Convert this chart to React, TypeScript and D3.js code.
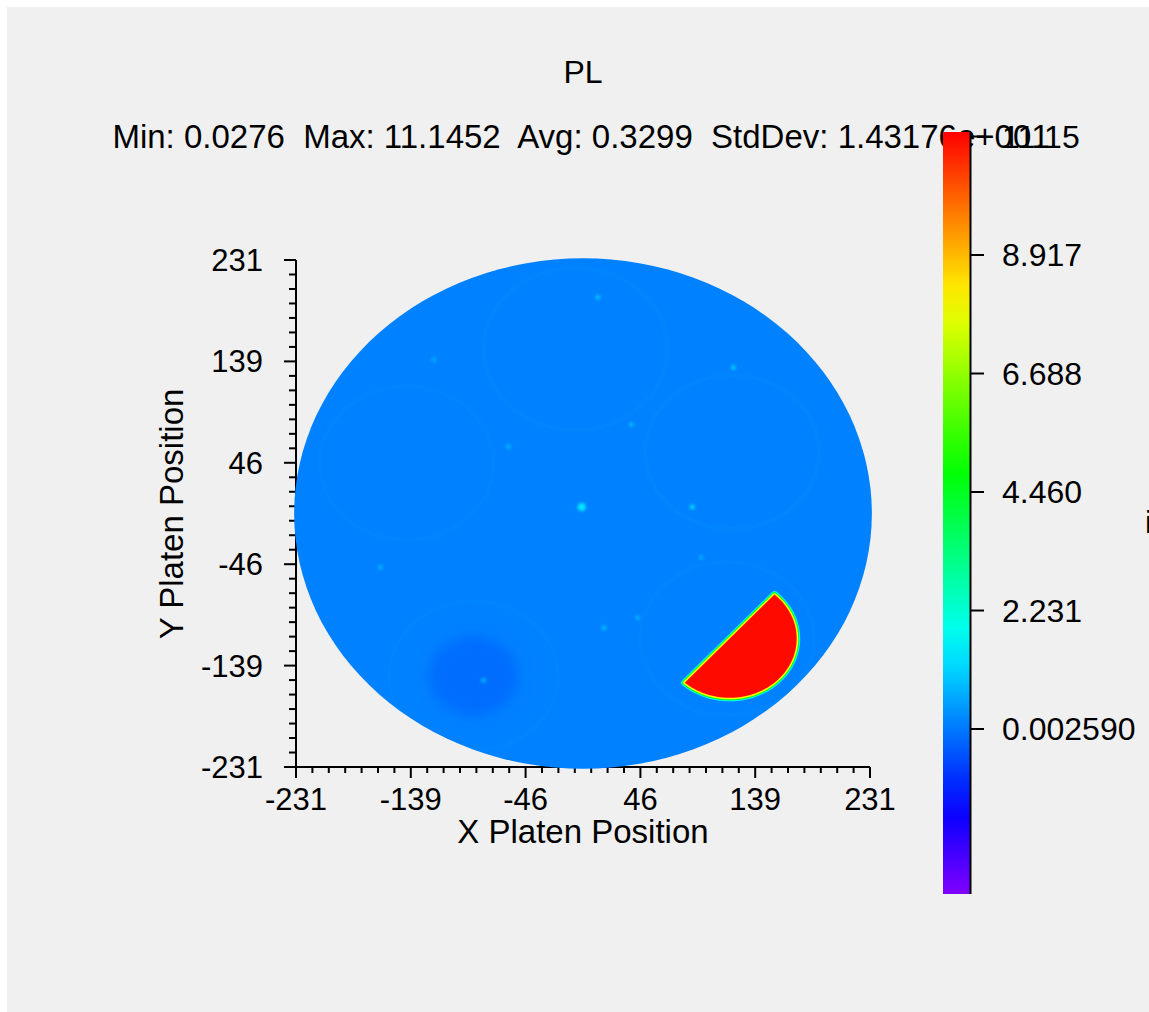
import * as d3 from "d3";

// header texts
const title = "PL";
const statNames = ["Min", "Max", "Avg", "StdDev"];
const statValues = ["0.0276", "11.1452", "0.3299", "1.43176e+001"];

// axes and color bar
const axisTicks = [-231, -138.6, -46.2, 46.2, 138.6, 231];
const colorTicks = [0.00259, 2.2311, 4.4596, 6.6882, 8.9167, 11.1452];
const colorDomain = [-3.1, 11.23];

// wafer map
const waferRadius = 232.5;
const baseLevel = 0.1;
const pocketX = [-6, 120, 116, -88, -142];
const pocketY = [150, 56, -114, -148, 46];
const pocketR = [74, 70, 70, 68, 70];
const pocketRing = [0.25, 0.25, 0.22, 0.2, 0.2];
const darkX = [-88];
const darkY = [-148];
const darkR = [36];
const darkLevel = [-0.15];
const spotX = [-1, 88, 121, 12, 39, 17, -80, -60, -163, 44, -120, 95];
const spotY = [6, 6, 133, 197, 81, -104, -152, 61, -49, -95, 140, -40];
const spotLevel = [1.4, 1.2, 1.0, 0.9, 0.8, 0.8, 0.7, 0.7, 0.7, 0.7, 0.6, 0.6];
const hotCenter = [118, -114];
const hotRadius = 54;
const hotChordAngle = 48;
const hotLevel = 11.1;
const rimLevels = [1.8, 4.6, 8.0];

const W = 1149;
const H = 1012;

const locale = d3.formatLocale({ decimal: ".", thousands: ",", grouping: [3], currency: ["", ""], minus: "-" });

export default function App() {
  const x = d3.scaleLinear().domain([-231, 231]).range([296, 870]);
  const y = d3.scaleLinear().domain([-231, 231]).range([767, 260]);
  const cbY = d3.scaleLinear().domain(colorDomain).range([894, 132]);
  const hue = d3.scaleLinear().domain(colorDomain).range([270, 0]).clamp(true);
  const color = (v: number) => d3.hsl(hue(v), 1, 0.5).formatHex();
  const fmt = locale.format(".0f");
  const cbFmt = locale.format(".4r");

  const rx = (r: number) => x(r) - x(0);
  const ry = (r: number) => y(0) - y(r);

  // minor ticks, 7 subdivisions per major interval
  const minor: number[] = [];
  for (let i = 0; i < axisTicks.length - 1; i++) {
    const a = axisTicks[i];
    const b = axisTicks[i + 1];
    d3.range(1, 7).forEach((k) => minor.push(a + (k * (b - a)) / 7));
  }

  // hot half-pocket outline
  const angles = d3.range(hotChordAngle, hotChordAngle - 181, -2);
  const hotPath =
    d3
      .line<number>()
      .x((a) => x(hotCenter[0] + hotRadius * Math.cos((a * Math.PI) / 180)))
      .y((a) => y(hotCenter[1] + hotRadius * Math.sin((a * Math.PI) / 180)))(angles) + "Z";

  const gradStops = d3.range(0, 1.0001, 0.05);
  const font = "'Liberation Sans', Arial, Helvetica, sans-serif";
  const statText = statNames.map((n, i) => `${n}: ${statValues[i]}`).join("  ");

  return (
    <svg
      width={W}
      height={H}
      viewBox={`0 0 ${W} ${H}`}
      style={{ position: "absolute", left: 0, top: 0 }}
      fontFamily={font}
    >
      <defs>
        <linearGradient id="cbGrad" x1="0" y1="1" x2="0" y2="0">
          {gradStops.map((t, i) => (
            <stop
              key={i}
              offset={t}
              stopColor={color(colorDomain[0] + t * (colorDomain[1] - colorDomain[0]))}
            />
          ))}
        </linearGradient>
        <clipPath id="wafer">
          <ellipse cx={x(0)} cy={y(0)} rx={rx(waferRadius)} ry={ry(waferRadius)} />
        </clipPath>
        <filter id="soft" x="-50%" y="-50%" width="200%" height="200%">
          <feGaussianBlur stdDeviation="6" />
        </filter>
        <filter id="soft2" x="-50%" y="-50%" width="200%" height="200%">
          <feGaussianBlur stdDeviation="1.5" />
        </filter>
      </defs>

      <rect x={0} y={0} width={W} height={H} fill="#ffffff" />
      <rect x={7} y={7} width={W - 7} height={H - 7} fill="#f0f0f0" />

      {/* Title and stats */}
      <text x={583} y={83} fontSize={32} textAnchor="middle" fill="#000">
        {title}
      </text>
      <text x={581} y={148} fontSize={33} textAnchor="middle" fill="#000" style={{ whiteSpace: "pre" }}>
        {statText}
      </text>

      {/* Axes */}
      <g stroke="#000" strokeWidth={2}>
        <line x1={x(-231)} x2={x(-231)} y1={y(231)} y2={y(-231) + 1} />
        <line x1={x(-231) - 1} x2={x(231)} y1={y(-231)} y2={y(-231)} />
        {axisTicks.map((v, i) => (
          <g key={"M" + i}>
            <line x1={x(-231) - 12} x2={x(-231)} y1={y(v)} y2={y(v)} />
            <line x1={x(v)} x2={x(v)} y1={y(-231)} y2={y(-231) + 11} />
          </g>
        ))}
        {minor.map((v, i) => (
          <g key={"m" + i}>
            <line x1={x(-231) - 7} x2={x(-231)} y1={y(v)} y2={y(v)} />
            <line x1={x(v)} x2={x(v)} y1={y(-231)} y2={y(-231) + 6} />
          </g>
        ))}
      </g>
      {axisTicks.map((v, i) => (
        <text key={"yl" + i} x={263} y={y(v) + 11} fontSize={31} textAnchor="end" fill="#000">
          {fmt(v)}
        </text>
      ))}
      {axisTicks.map((v, i) => (
        <text key={"xl" + i} x={x(v)} y={810} fontSize={31} textAnchor="middle" fill="#000">
          {fmt(v)}
        </text>
      ))}
      <text x={583} y={843} fontSize={33} textAnchor="middle" fill="#000">
        X Platen Position
      </text>
      <text transform="translate(183,514) rotate(-90)" fontSize={33} textAnchor="middle" fill="#000">
        Y Platen Position
      </text>

      {/* Wafer map */}
      <ellipse cx={x(0)} cy={y(0)} rx={rx(waferRadius)} ry={ry(waferRadius)} fill={color(baseLevel)} />
      <g clipPath="url(#wafer)">
        {darkX.map((v, i) => (
          <ellipse
            key={"d" + i}
            cx={x(v)}
            cy={y(darkY[i])}
            rx={rx(darkR[i])}
            ry={ry(darkR[i])}
            fill={color(darkLevel[i])}
            filter="url(#soft)"
          />
        ))}
        {pocketX.map((v, i) => (
          <ellipse
            key={"p" + i}
            cx={x(v)}
            cy={y(pocketY[i])}
            rx={rx(pocketR[i])}
            ry={ry(pocketR[i])}
            fill="none"
            stroke={color(pocketRing[i])}
            strokeWidth={1.5}
            filter="url(#soft2)"
          />
        ))}
        {spotX.map((v, i) => (
          <ellipse
            key={"s" + i}
            cx={x(v)}
            cy={y(spotY[i])}
            rx={i === 0 ? 4 : 2.5}
            ry={i === 0 ? 4 : 2.5}
            fill={color(spotLevel[i])}
            filter="url(#soft2)"
          />
        ))}
        {rimLevels.map((lv, i) => (
          <path
            key={"r" + i}
            d={hotPath}
            fill="none"
            stroke={color(lv)}
            strokeWidth={7 - i * 2}
            strokeLinejoin="round"
          />
        ))}
        <path d={hotPath} fill={color(hotLevel)} />
      </g>

      {/* Color bar */}
      <rect x={943} y={cbY(colorDomain[1])} width={27} height={cbY(colorDomain[0]) - cbY(colorDomain[1])} fill="url(#cbGrad)" />
      <line x1={970.5} x2={970.5} y1={cbY(colorDomain[1])} y2={cbY(colorDomain[0])} stroke="#000" strokeWidth={2} />
      {colorTicks.map((v, i) => (
        <g key={"c" + i}>
          <line x1={971} x2={984} y1={cbY(v)} y2={cbY(v)} stroke="#000" strokeWidth={2} />
          <text x={1002} y={cbY(v) + 11} fontSize={32} fill="#000">
            {cbFmt(v)}
          </text>
        </g>
      ))}
      <text x={1145} y={533} fontSize={32} fill="#000">
        i
      </text>
    </svg>
  );
}
